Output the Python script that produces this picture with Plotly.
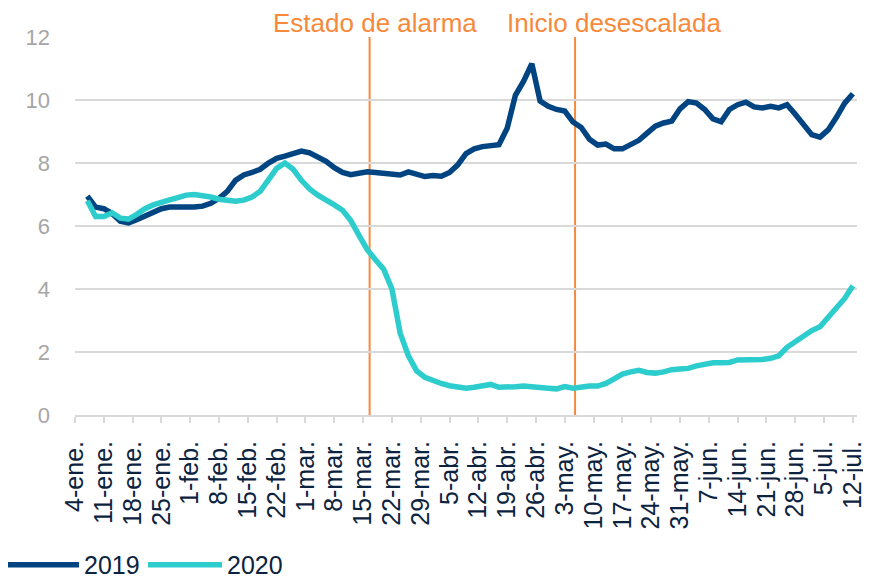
import pandas as pd
import plotly.graph_objects as go

# ---- data ----
dates = pd.date_range("2019-01-07", "2019-07-12", freq="2D")

v2019 = [6.95, 6.6, 6.55, 6.4, 6.15, 6.1, 6.2, 6.32, 6.47, 6.55,
         6.6, 6.6, 6.57, 6.6, 6.63, 6.72, 6.88, 7.1, 7.45, 7.62,
         7.7, 7.8, 8.0, 8.15, 8.22, 8.3, 8.38, 8.32, 8.2, 8.05,
         7.85, 7.7, 7.63, 7.68, 7.72, 7.7, 7.66, 7.63, 7.62, 7.72,
         7.65, 7.57, 7.6, 7.58, 7.7, 7.94, 8.3, 8.45, 8.52, 8.53,
         8.58, 9.1, 10.15, 10.6, 11.15, 9.97, 9.8, 9.7, 9.65, 9.3,
         9.13, 8.75, 8.57, 8.6, 8.45, 8.45, 8.6, 8.72, 8.95, 9.17,
         9.27, 9.33, 9.72, 9.95, 9.9, 9.7, 9.4, 9.31, 9.7, 9.85,
         9.93, 9.78, 9.75, 9.8, 9.75, 9.85, 9.55, 9.2, 8.9, 8.82,
         9.05, 9.45, 9.9, 10.2]

v2020 = [6.8, 6.3, 6.3, 6.42, 6.25, 6.22, 6.37, 6.55, 6.67, 6.77,
         6.83, 6.9, 6.98, 7.0, 6.98, 6.92, 6.85, 6.8, 6.79, 6.82,
         6.92, 7.1, 7.46, 7.83, 8.0, 7.8, 7.45, 7.18, 6.98, 6.8,
         6.67, 6.5, 6.17, 5.7, 5.25, 4.93, 4.63, 4.0, 2.6, 1.88,
         1.4, 1.2, 1.08, 1.0, 0.93, 0.88, 0.85, 0.88, 0.93, 0.97,
         0.88, 0.87, 0.9, 0.92, 0.91, 0.9, 0.85, 0.83, 0.9, 0.85,
         0.9, 0.92, 0.92, 1.0, 1.15, 1.3, 1.37, 1.42, 1.35, 1.33,
         1.37, 1.44, 1.46, 1.48, 1.56, 1.62, 1.66, 1.66, 1.67, 1.75,
         1.75, 1.75, 1.76, 1.8, 1.88, 2.15, 2.33, 2.55, 2.68, 2.8,
         3.1, 3.38, 3.7, 4.1]

tick_dates = pd.date_range("2019-01-04", "2019-07-12", freq="7D")
tick_labels = ["4-ene.", "11-ene.", "18-ene.", "25-ene.", "1-feb.", "8-feb.",
               "15-feb.", "22-feb.", "1-mar.", "8-mar.", "15-mar.", "22-mar.",
               "29-mar.", "5-abr.", "12-abr.", "19-abr.", "26-abr.", "3-may.",
               "10-may.", "17-may.", "24-may.", "31-may.", "7-jun.", "14-jun.",
               "21-jun.", "28-jun.", "5-jul.", "12-jul."]

event_dates = ["2019-03-16 14:00", "2019-05-05 12:00"]
event_labels = ["Estado de alarma", "Inicio desescalada"]
event_label_shift = [5, 39]

# ---- style ----
NAVY = "#004481"
AQUA = "#2DCCCD"
ORANGE = "#F7893B"
TEXT = "#0C2340"
GRID = "#D9D9D9"
FONT = "Liberation Sans, Arial, sans-serif"

fig = go.Figure()
fig.add_trace(go.Scatter(x=dates, y=v2019, mode="lines", name="2019",
                         line=dict(color=NAVY, width=5.5)))
fig.add_trace(go.Scatter(x=dates, y=v2020, mode="lines", name="2020",
                         line=dict(color=AQUA, width=5.5)))

for d, lab, sh in zip(event_dates, event_labels, event_label_shift):
    fig.add_shape(type="line", xref="x", yref="paper", x0=d, x1=d, y0=0, y1=1,
                  line=dict(color=ORANGE, width=2), layer="below")
    fig.add_annotation(x=d, y=1, xref="x", yref="paper", text=lab,
                       showarrow=False, xanchor="center", yanchor="bottom",
                       xshift=sh, yshift=-3,
                       font=dict(color=ORANGE, size=26, family=FONT))

# page body adds an 8px offset, so the figure is sized to the remaining window
fig.update_layout(
    width=863, height=573,
    margin=dict(l=67, r=14, t=29, b=166, autoexpand=False),
    paper_bgcolor="white", plot_bgcolor="white",
    font=dict(family=FONT, color=TEXT, size=25),
    showlegend=True,
    legend=dict(orientation="h", xref="paper", yref="container",
                x=-0.0959, y=0.028, xanchor="left", yanchor="middle",
                font=dict(size=25, color=TEXT), itemwidth=74,
                entrywidth=54, entrywidthmode="pixels",
                bgcolor="rgba(0,0,0,0)"),
)
fig.update_xaxes(range=["2019-01-04", "2019-07-13"], type="date",
                 tickvals=tick_dates, ticktext=tick_labels, tickangle=-90,
                 showgrid=False, showline=True, linecolor=GRID, linewidth=2,
                 ticks="outside", ticklen=6, tickcolor=GRID, tickwidth=2,
                 ticklabelstandoff=8,
                 tickfont=dict(size=25, color=TEXT), zeroline=False)
fig.update_yaxes(range=[0, 12], tickvals=[0, 2, 4, 6, 8, 10, 12],
                 showgrid=True, gridcolor=GRID, gridwidth=1.5, zeroline=False,
                 showline=False, ticks="", ticklabelstandoff=24,
                 tickfont=dict(size=22, color="#A6A6A6"))

fig.write_html("out.html")
